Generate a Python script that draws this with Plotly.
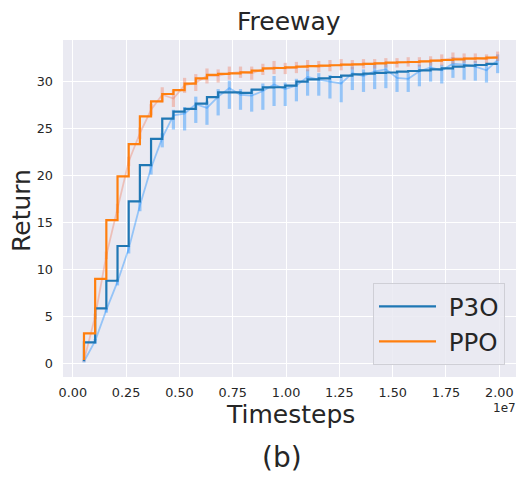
import plotly.graph_objects as go

# ---- data -------------------------------------------------------------
timesteps = [524288, 1048576, 1572864, 2097152, 2621440, 3145728, 3670016, 4194304,
             4718592, 5242880, 5767168, 6291456, 6815744, 7340032, 7864320, 8388608,
             8912896, 9437184, 9961472, 10485760, 11010048, 11534336, 12058624, 12582912,
             13107200, 13631488, 14155776, 14680064, 15204352, 15728640, 16252928, 16777216,
             17301504, 17825792, 18350080, 18874368, 19398656, 19922944]

p3o_smooth = [0.25, 2.24, 5.86, 8.8, 12.5, 17.25, 21.1, 23.9, 26.05, 26.8, 27.1, 27.65,
              28.35, 28.85, 28.85, 28.8, 29.15, 29.38, 29.4, 29.57, 30.0, 30.24, 30.35, 30.49,
              30.63, 30.78, 30.84, 30.92, 30.97, 31.06, 31.13, 31.2, 31.31, 31.41, 31.59, 31.7,
              31.77, 31.88]
ppo_smooth = [0.35, 3.2, 9.0, 15.26, 19.9, 23.35, 26.3, 27.9, 28.68, 29.1, 29.78, 30.35,
              30.72, 30.82, 30.88, 30.98, 31.18, 31.4, 31.45, 31.52, 31.6, 31.65, 31.7, 31.74,
              31.8, 31.84, 31.88, 31.95, 32.02, 32.06, 32.09, 32.16, 32.23, 32.3, 32.37, 32.44,
              32.48, 32.55]

p3o_raw = [0.2, 2.4, 5.7, 8.7, 12.2, 16.8, 20.8, 24.0, 26.4, 26.6, 27.6, 27.2, 28.4, 29.3,
           28.6, 28.5, 29.0, 29.7, 29.2, 29.6, 30.5, 30.2, 30.0, 29.8, 30.9, 30.6, 31.1, 31.3,
           30.4, 30.3, 31.1, 31.5, 31.2, 31.9, 31.8, 31.6, 31.2, 32.3]
ppo_raw = [0.3, 5.0, 11.5, 16.5, 21.5, 24.5, 27.0, 28.6, 28.2, 29.6, 29.9, 30.6, 30.6, 30.9,
           31.0, 30.9, 31.3, 31.5, 31.4, 31.5, 31.7, 31.6, 31.7, 31.8, 31.8, 31.9, 31.9, 32.0,
           32.0, 32.1, 32.1, 32.2, 32.3, 32.5, 32.5, 32.5, 32.4, 32.7]

p3o_err_hi = [0.1, 0.2, 0.2, 0.3, 0.3, 0.4, 0.4, 0.5, 0.6, 0.7, 0.8, 0.7, 0.8, 0.8, 0.6, 0.7,
              0.8, 0.9, 0.7, 0.7, 0.8, 0.7, 0.7, 0.8, 0.7, 0.7, 0.8, 0.8, 0.6, 0.6, 0.7, 0.6,
              0.6, 0.7, 0.7, 0.6, 0.6, 0.6]
p3o_err_lo = [0.1, 0.3, 0.3, 0.4, 0.5, 0.6, 0.7, 1.0, 1.5, 1.8, 2.0, 1.8, 2.0, 2.2, 1.6, 1.7,
              2.0, 2.3, 1.8, 1.7, 2.0, 1.7, 1.8, 2.0, 1.8, 1.7, 1.9, 2.0, 1.5, 1.4, 1.6, 1.5,
              1.4, 1.5, 1.6, 1.5, 1.3, 1.4]
ppo_err = [0.1, 0.3, 0.4, 0.5, 0.5, 0.6, 0.6, 0.8, 0.9, 0.8, 0.9, 0.8, 0.7, 0.7, 0.6, 0.7,
           0.6, 0.7, 0.6, 0.6, 0.6, 0.6, 0.6, 0.6, 0.5, 0.5, 0.5, 0.5, 0.5, 0.5, 0.5, 0.5,
           0.6, 0.6, 0.5, 0.5, 0.5, 0.5]

x_tickvals = [0, 2500000, 5000000, 7500000, 10000000, 12500000, 15000000, 17500000, 20000000]
x_ticktext = ["0.00", "0.25", "0.50", "0.75", "1.00", "1.25", "1.50", "1.75", "2.00"]
y_tickvals = [0, 5, 10, 15, 20, 25, 30]

# ---- styling -----------------------------------------------------------
FONT = "DejaVu Sans"
TXT = "#262626"
BLUE = "#1f77b4"
ORANGE = "#ff7f0e"
BLUE_FAINT = "rgba(30,144,255,0.42)"
ORANGE_FAINT = "rgba(240,128,100,0.40)"

fig = go.Figure()

fig.add_trace(go.Scatter(
    x=timesteps, y=p3o_raw, mode="lines", showlegend=False, hoverinfo="skip",
    line=dict(color=BLUE_FAINT, width=1.8),
    error_y=dict(type="data", symmetric=False, array=p3o_err_hi, arrayminus=p3o_err_lo,
                 color=BLUE_FAINT, thickness=3.2, width=0)))
fig.add_trace(go.Scatter(
    x=timesteps, y=ppo_raw, mode="lines", showlegend=False, hoverinfo="skip",
    line=dict(color=ORANGE_FAINT, width=1.8),
    error_y=dict(type="data", array=ppo_err, color=ORANGE_FAINT, thickness=3.2, width=0)))
fig.add_trace(go.Scatter(
    x=timesteps, y=p3o_smooth, mode="lines", name="\u00a0P3O", legendgroup="a",
    line=dict(color=BLUE, width=2.2, shape="vh")))
fig.add_trace(go.Scatter(
    x=timesteps, y=ppo_smooth, mode="lines", name="\u00a0PPO", legendgroup="b",
    line=dict(color=ORANGE, width=2.2, shape="vh")))

# Figure fills the whole 516x478 window (body margin removed below).
W, H = 516, 478
PL, PR, PT, PB = 63, 516, 40, 377      # plot area in screen pixels
L, T, R, B = PL, PT, W - PR, H - PB
pw, ph = W - L - R, H - T - B

# x scale: 0 -> 72.8 px, 2e7 -> 499.3 px
X0PX, XSCALE = 72.8, (499.3 - 72.8) / 2.0e7
x_lo = (PL - X0PX) / XSCALE
x_hi = (PR - X0PX) / XSCALE


def px(xp):
    return (xp - PL) / pw


def py(yp):
    return (PB - yp) / ph


fig.update_layout(
    width=W, height=H,
    margin=dict(l=L, r=R, t=T, b=B, autoexpand=False),
    paper_bgcolor="white", plot_bgcolor="#eaeaf2",
    font=dict(family=FONT, color=TXT, size=12),
    hovermode=False,
    showlegend=True,
    legend=dict(x=px(505), y=py(365), xanchor="right", yanchor="bottom",
                bgcolor="rgba(234,234,242,0.85)", bordercolor="#cfcfd6", borderwidth=1,
                font=dict(family=FONT, size=24.5, color=TXT), tracegroupgap=0,
                itemwidth=57),
    xaxis=dict(range=[x_lo, x_hi], tickvals=x_tickvals, ticktext=x_ticktext,
               showgrid=True, gridcolor="white", gridwidth=1.3, zeroline=False,
               showline=False, ticks="", ticklabelstandoff=6, ticklabeloverflow="allow",
               tickfont=dict(family=FONT, size=12.8, color=TXT)),
    yaxis=dict(range=[-1.45, 34.43], tickvals=y_tickvals,
               showgrid=True, gridcolor="white", gridwidth=1.3, zeroline=False,
               showline=False, ticks="", ticklabelstandoff=9,
               tickfont=dict(family=FONT, size=12.8, color=TXT)),
    annotations=[
        dict(text="Freeway", xref="paper", yref="paper", x=px(289), y=py(22),
             xanchor="center", yanchor="middle", showarrow=False,
             font=dict(family=FONT, size=25, color=TXT)),
        dict(text="Return", xref="paper", yref="paper", x=px(21), y=py(211),
             xanchor="center", yanchor="middle", showarrow=False, textangle=-90,
             font=dict(family=FONT, size=25, color=TXT)),
        dict(text="Timesteps", xref="paper", yref="paper", x=px(290), y=py(415),
             xanchor="center", yanchor="middle", showarrow=False,
             font=dict(family=FONT, size=25, color=TXT)),
        dict(text="1e7", xref="paper", yref="paper", x=px(504), y=py(408),
             xanchor="center", yanchor="middle", showarrow=False,
             font=dict(family=FONT, size=12, color=TXT)),
        dict(text="(b)", xref="paper", yref="paper", x=px(282), y=py(457),
             xanchor="center", yanchor="middle", showarrow=False,
             font=dict(family=FONT, size=28, color=TXT)),
    ],
)

fig.write_html(
    "out.html",
    config={"displayModeBar": False},
    post_script="document.body.style.margin='0px';"
                "document.body.style.overflow='hidden';"
                "document.documentElement.style.overflow='hidden';",
)
